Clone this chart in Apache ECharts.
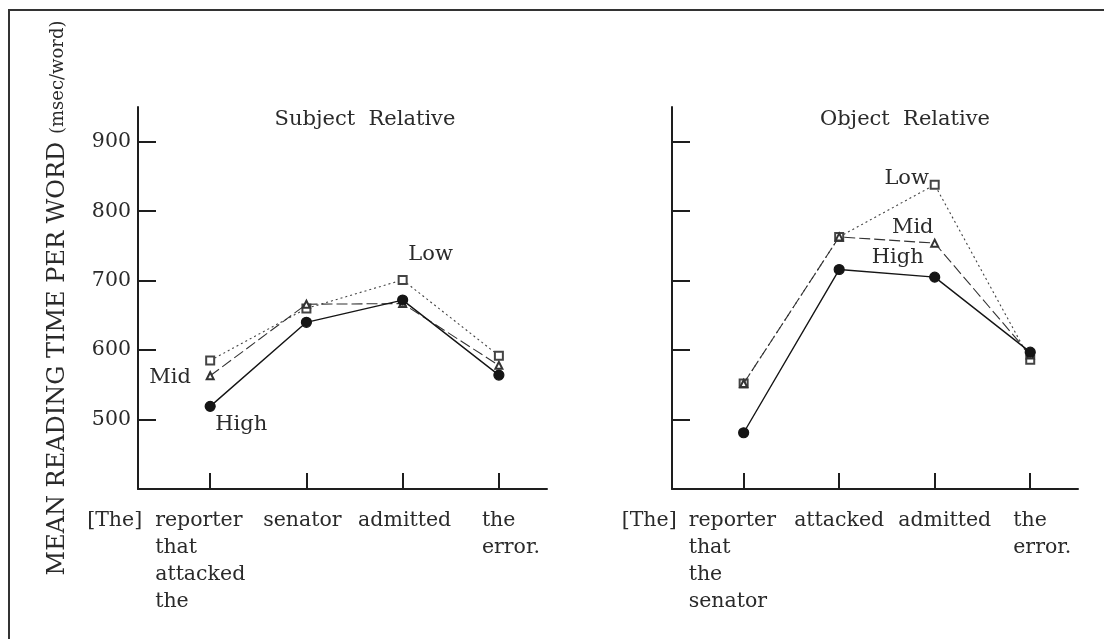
<!DOCTYPE html>
<html><head><meta charset="utf-8">
<script src="https://cdn.jsdelivr.net/npm/echarts@6/dist/echarts.min.js"></script>
<style>html,body{margin:0;background:#fff}#c{width:1104px;height:639px}</style>
</head><body><div id="c"></div>
<script>
// ---- data ----
const yTicks = [500, 600, 700, 800, 900];
const determiner = '[The]';
const subjectCats = ['reporter\nthat\nattacked\nthe', 'senator', 'admitted', 'the\nerror.'];
const objectCats = ['reporter\nthat\nthe\nsenator', 'attacked', 'admitted', 'the\nerror.'];
const groupNames = ['High', 'Mid', 'Low'];
const subjectHigh = [519, 640, 672, 564];
const subjectMid = [563, 666, 667, 578];
const subjectLow = [585, 660, 701, 592];
const objectHigh = [481, 716, 705, 597];
const objectMid = [552, 763, 754, 593];
const objectLow = [552, 763, 838, 586];
const panelTitles = ['Subject  Relative', 'Object  Relative'];
const yName = 'MEAN READING TIME PER WORD';
const yUnit = '(msec/word)';

// ---- styles / layout ----
const FONT = 'DejaVu Serif';
const INK = '#1e1e1e';
const TXT = '#2a2a2a';
const styles = {
  High: {symbol: 'circle', symbolSize: 10, type: 'solid', width: 1.4, color: '#151515', z: 5},
  Mid: {symbol: 'emptyTriangle', symbolSize: 7, type: [11, 4], width: 1.1, color: '#333', z: 4},
  Low: {symbol: 'emptyRect', symbolSize: 8, type: [2, 3], width: 1.1, color: '#444', z: 3}
};
// where each group's name label sits: [panel][group] = [dataIndex, dx, dy]
const nameLabels = [
  {High: [0, 31, 18], Mid: [0, -40, 2], Low: [2, 28, -25]},
  {High: [2, -37, -20], Mid: [2, -22, -16], Low: [2, -28, -6]}
];
const catLayout = [
  {det: -123, items: [[-55, 'left'], [-4, 'center'], [2, 'center'], [-17, 'left']]},
  {det: -122, items: [[-55, 'left'], [0, 'center'], [10, 'center'], [-17, 'left']]}
];

const grids = [
  {left: 138, top: 107, width: 409, height: 382},
  {left: 672, top: 107, width: 406, height: 382}
];

function xAxisDef(i) {
  return {
    type: 'value', gridIndex: i, min: -0.75, max: 3.5,
    axisLine: {show: true, onZero: false, lineStyle: {color: INK, width: 2}},
    axisTick: {show: true, inside: true, length: 16, customValues: [0, 1, 2, 3], lineStyle: {color: INK, width: 2}},
    axisLabel: {show: false},
    splitLine: {show: false}
  };
}
function yAxisDef(i) {
  const a = {
    type: 'value', gridIndex: i, min: 400, max: 950,
    axisLine: {show: true, onZero: false, lineStyle: {color: INK, width: 2}},
    axisTick: {show: true, inside: true, length: 18, customValues: yTicks, lineStyle: {color: INK, width: 2}},
    axisLabel: {show: i === 0, customValues: yTicks, margin: 7, color: TXT, fontFamily: FONT, fontSize: 20.5},
    splitLine: {show: false}
  };
  if (i === 0) {
    a.name = '{a|' + yName + '}  {b|' + yUnit + '}';
    a.nameLocation = 'middle';
    a.nameRotate = 90;
    a.nameGap = 68;
    a.nameTextStyle = {
      color: TXT, fontFamily: FONT,
      rich: {
        a: {fontSize: 24, fontFamily: FONT, color: TXT},
        b: {fontSize: 18, fontFamily: FONT, color: TXT}
      }
    };
  }
  return a;
}

function makeSeries(panel, group, values) {
  const st = styles[group];
  const lab = nameLabels[panel][group];
  return {
    type: 'line', name: group, xAxisIndex: panel, yAxisIndex: panel,
    symbol: st.symbol, symbolSize: st.symbolSize, z: st.z,
    showAllSymbol: true,
    lineStyle: {color: st.color, width: st.width, type: st.type},
    itemStyle: {color: st.color, borderColor: st.color, borderWidth: 1.2},
    emphasis: {disabled: true},
    data: values.map((v, i) => {
      const d = {value: [i, v]};
      if (lab && lab[0] === i) {
        d.label = {
          show: true, position: 'inside', offset: [lab[1], lab[2]],
          formatter: group, color: TXT, fontFamily: FONT, fontSize: 21
        };
      }
      return d;
    })
  };
}

const chart = echarts.init(document.getElementById('c'), null, {renderer: 'canvas'});
const option = {
  backgroundColor: '#fff',
  animation: false,
  title: [
    {text: panelTitles[0], left: 360, top: 104, textAlign: 'center',
     textStyle: {fontFamily: FONT, fontWeight: 'normal', fontSize: 21, color: TXT}},
    {text: panelTitles[1], left: 900, top: 104, textAlign: 'center',
     textStyle: {fontFamily: FONT, fontWeight: 'normal', fontSize: 21, color: TXT}}
  ],
  grid: grids,
  xAxis: [xAxisDef(0), xAxisDef(1)],
  yAxis: [yAxisDef(0), yAxisDef(1)],
  series: [
    makeSeries(0, 'Low', subjectLow),
    makeSeries(0, 'Mid', subjectMid),
    makeSeries(0, 'High', subjectHigh),
    makeSeries(1, 'Low', objectLow),
    makeSeries(1, 'Mid', objectMid),
    makeSeries(1, 'High', objectHigh)
  ]
};
chart.setOption(option);

// category labels placed through the axes' own scales
const graphics = [{
  type: 'rect', silent: true,
  shape: {x: 9, y: 10, width: 1200, height: 700},
  style: {fill: null, stroke: '#333', lineWidth: 2}
}];
[subjectCats, objectCats].forEach((cats, p) => {
  const yPix = chart.convertToPixel({yAxisIndex: p}, 400) + 18;
  const x0 = chart.convertToPixel({xAxisIndex: p}, 0);
  const tstyle = {fontFamily: FONT, fontSize: 20.5, fill: TXT, lineHeight: 27, verticalAlign: 'top'};
  graphics.push({type: 'text', silent: true, x: x0 + catLayout[p].det, y: yPix,
    style: Object.assign({text: determiner, align: 'left'}, tstyle)});
  cats.forEach((c, i) => {
    const xi = chart.convertToPixel({xAxisIndex: p}, i);
    const [dx, al] = catLayout[p].items[i];
    graphics.push({type: 'text', silent: true, x: xi + dx, y: yPix,
      style: Object.assign({text: c, align: al}, tstyle)});
  });
});
chart.setOption({graphic: graphics});
</script>
</body></html>
